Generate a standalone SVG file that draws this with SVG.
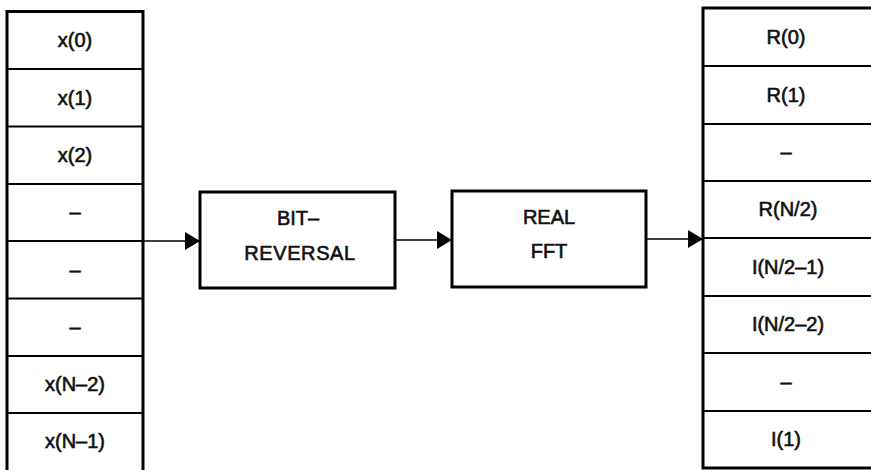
<svg xmlns="http://www.w3.org/2000/svg" width="871" height="470" viewBox="0 0 871 470">
  <defs>
    <marker id="arrow" markerUnits="userSpaceOnUse" markerWidth="16" markerHeight="18" refX="15" refY="9" orient="auto">
      <path d="M0,0 L15,9 L0,18 Z" fill="#000"/>
    </marker>
  </defs>
  <style>
    .frame { fill: none; stroke: #000; stroke-width: 3; }
    .row { stroke: #000; stroke-width: 2; }
    .box { fill: #fff; stroke: #000; stroke-width: 3; }
    .wire { stroke: #000; stroke-width: 1.6; fill: none; marker-end: url(#arrow); }
    text { font-family: "Liberation Sans", Arial, sans-serif; font-size: 20px; fill: #111; text-anchor: middle; stroke: #111; stroke-width: 0.6; }
  </style>
  <rect width="871" height="470" fill="#fff"/>

  <!-- input sample array x(n) -->
  <g id="input-array">
    <path class="frame" d="M7,472 V11.5 H143 V472"/>
    <line class="row" x1="7" y1="69" x2="143" y2="69"/>
    <line class="row" x1="7" y1="126.5" x2="143" y2="126.5"/>
    <line class="row" x1="7" y1="184" x2="143" y2="184"/>
    <line class="row" x1="7" y1="241" x2="143" y2="241"/>
    <line class="row" x1="7" y1="298.5" x2="143" y2="298.5"/>
    <line class="row" x1="7" y1="356" x2="143" y2="356"/>
    <line class="row" x1="7" y1="413" x2="143" y2="413"/>
    <text x="75" y="47">x(0)</text>
    <text x="75" y="104.5">x(1)</text>
    <text x="75" y="162">x(2)</text>
    <text x="75" y="219">–</text>
    <text x="75" y="277">–</text>
    <text x="75" y="334">–</text>
    <text x="75" y="391">x(N–2)</text>
    <text x="75" y="448">x(N–1)</text>
  </g>

  <!-- bit-reversal stage -->
  <g id="bit-reversal">
    <rect class="box" x="200" y="192" width="195" height="96"/>
    <text x="298" y="225">BIT–</text>
    <text x="300" y="260" letter-spacing="0.6">REVERSAL</text>
  </g>

  <!-- real FFT stage -->
  <g id="real-fft">
    <rect class="box" x="452" y="191" width="194" height="96"/>
    <text x="549" y="224">REAL</text>
    <text x="549" y="258">FFT</text>
  </g>

  <!-- output array: real parts then imaginary parts -->
  <g id="output-array">
    <path class="frame" d="M875,8 H703 V468 H875"/>
    <line class="row" x1="703" y1="66" x2="871" y2="66"/>
    <line class="row" x1="703" y1="124" x2="871" y2="124"/>
    <line class="row" x1="703" y1="181" x2="871" y2="181"/>
    <line class="row" x1="703" y1="238" x2="871" y2="238"/>
    <line class="row" x1="703" y1="296" x2="871" y2="296"/>
    <line class="row" x1="703" y1="353" x2="871" y2="353"/>
    <line class="row" x1="703" y1="411" x2="871" y2="411"/>
    <text x="786" y="44">R(0)</text>
    <text x="786" y="102">R(1)</text>
    <text x="786" y="159">–</text>
    <text x="788" y="216">R(N/2)</text>
    <text x="788" y="274">I(N/2–1)</text>
    <text x="788" y="331">I(N/2–2)</text>
    <text x="786" y="389">–</text>
    <text x="786" y="446">I(1)</text>
  </g>

  <!-- data flow -->
  <g id="connectors">
    <line class="wire" x1="143" y1="241" x2="200" y2="241"/>
    <line class="wire" x1="395" y1="240" x2="452" y2="240"/>
    <line class="wire" x1="646" y1="239" x2="703" y2="239"/>
  </g>
</svg>
